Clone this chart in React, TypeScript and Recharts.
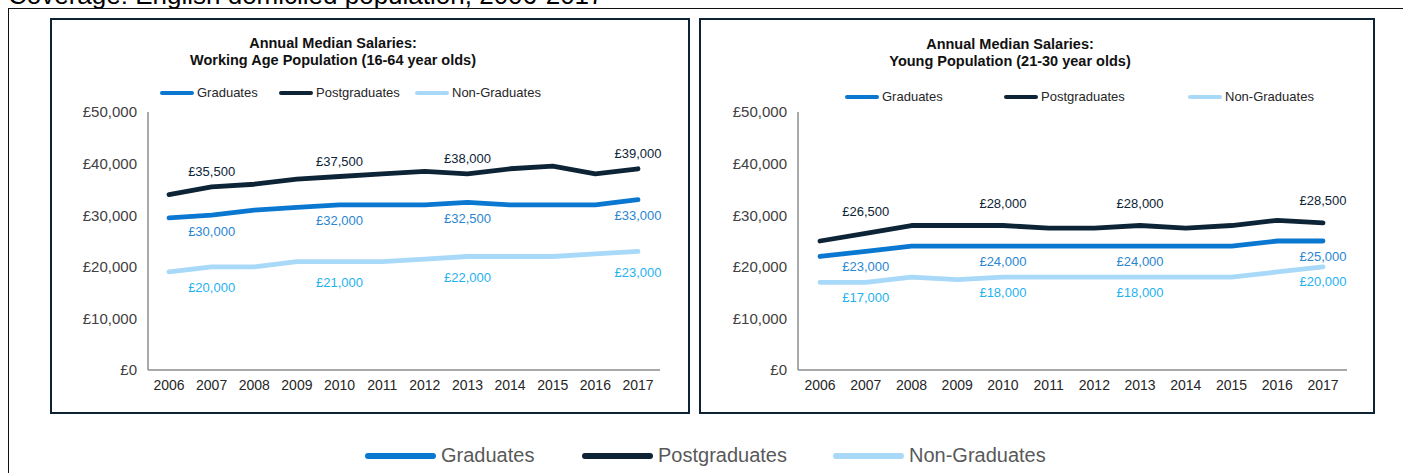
import React from 'react';
import { LineChart, Line, XAxis, YAxis, LabelList } from 'recharts';

const years = ['2006', '2007', '2008', '2009', '2010', '2011', '2012', '2013', '2014', '2015', '2016', '2017'];
const yTicks = [0, 10000, 20000, 30000, 40000, 50000];
const labelledYears = ['2007', '2010', '2013', '2017'];
const seriesNames = ['Graduates', 'Postgraduates', 'Non-Graduates'];

const workGrad = [29500, 30000, 31000, 31500, 32000, 32000, 32000, 32500, 32000, 32000, 32000, 33000];
const workPost = [34000, 35500, 36000, 37000, 37500, 38000, 38500, 38000, 39000, 39500, 38000, 39000];
const workNon = [19000, 20000, 20000, 21000, 21000, 21000, 21500, 22000, 22000, 22000, 22500, 23000];

const youngGrad = [22000, 23000, 24000, 24000, 24000, 24000, 24000, 24000, 24000, 24000, 25000, 25000];
const youngPost = [25000, 26500, 28000, 28000, 28000, 27500, 27500, 28000, 27500, 28000, 29000, 28500];
const youngNon = [17000, 17000, 18000, 17500, 18000, 18000, 18000, 18000, 18000, 18000, 19000, 20000];

const lineColors = ['#0a78d0', '#0d2436', '#a8d9f8'];
const labelColors = ['#2a86d1', '#0d2436', '#1fb2ef'];
const FONT = '"Liberation Sans", Arial, sans-serif';

const buildRows = (g: number[], p: number[], n: number[]) =>
  years.map((y, i) => ({ year: y, Graduates: g[i], Postgraduates: p[i], 'Non-Graduates': n[i] }));

const workRows = buildRows(workGrad, workPost, workNon);
const youngRows = buildRows(youngGrad, youngPost, youngNon);

const money = (v: number) => '£' + Number(v).toLocaleString('en-GB');

const makeLabel = (color: string, dy: number) => (props: any) => {
  const { x, y, value, index } = props;
  if (!labelledYears.includes(years[index])) return null;
  return (
    <text x={x} y={y + dy} textAnchor="middle" dominantBaseline="central" fill={color}
      fontSize={13} fontFamily={FONT}>
      {money(value)}
    </text>
  );
};

type PanelProps = {
  left: number; width: number; rows: any[];
  title2: string; titleTop: number; titleShift: number; legendTop: number; legendLefts: number[];
  padL: number; padR: number; marginR: number; yWidth: number;
  dys: number[];
};

function Panel(p: PanelProps) {
  return (
    <div style={{ position: 'absolute', left: p.left, top: 18, width: p.width, height: 396 }}>
      <div style={{ position: 'absolute', left: 0, top: 0, width: p.width - 4, height: 392, border: '2px solid #0d2436' }} />
      <div style={{ position: 'absolute', left: 0, width: p.width, top: p.titleTop, textAlign: 'center', fontFamily: FONT, fontWeight: 'bold', fontSize: 14.5, lineHeight: '17px', color: '#111' }}>
        <div style={{ transform: `translateX(${p.titleShift}px)` }}>Annual Median Salaries:</div>
        <div style={{ transform: `translateX(${p.titleShift}px)` }}>{p.title2}</div>
      </div>
      {seriesNames.map((name, i) => (
        <div key={name} style={{ position: 'absolute', left: p.legendLefts[i], top: p.legendTop, display: 'flex', alignItems: 'center', fontFamily: FONT, fontSize: 13, color: '#262626', whiteSpace: 'nowrap' }}>
          <div style={{ width: 34, height: 4, borderRadius: 2, background: lineColors[i], marginRight: 3 }} />
          <span>{name}</span>
        </div>
      ))}
      <div style={{ position: 'absolute', left: 0, top: 0 }}>
        <LineChart width={p.width} height={396} data={p.rows}
          margin={{ top: 94, right: p.marginR, bottom: 14, left: 0 }}>
          <XAxis dataKey="year" tickLine={false} tickMargin={4} height={30}
            padding={{ left: p.padL, right: p.padR }}
            axisLine={{ stroke: '#8c8c8c', strokeWidth: 1.5 }}
            tick={{ fontSize: 14, fill: '#262626', fontFamily: FONT }} interval={0} />
          <YAxis domain={[0, 50000]} ticks={yTicks} tickFormatter={money} width={p.yWidth}
            tickLine={false} tickMargin={5}
            axisLine={{ stroke: '#8c8c8c', strokeWidth: 1.5 }}
            tick={{ fontSize: 15, fill: '#404040', fontFamily: FONT }} />
          {seriesNames.map((name, i) => (
            <Line key={name} dataKey={name} type="linear" stroke={lineColors[i]} strokeWidth={4.8}
              dot={false} isAnimationActive={false} strokeLinejoin="round" strokeLinecap="round">
              <LabelList dataKey={name} content={makeLabel(labelColors[i], p.dys[i])} />
            </Line>
          ))}
        </LineChart>
      </div>
    </div>
  );
}

export default function App() {
  return (
    <div style={{ position: 'absolute', left: 0, top: 0, width: 1403, height: 473, background: '#fff', overflow: 'hidden' }}>
      <div style={{ position: 'absolute', left: 8, top: -20, fontFamily: FONT, fontSize: 26, lineHeight: '30px', color: '#000', whiteSpace: 'nowrap' }}>
        Coverage: English domiciled population, 2006-2017
      </div>
      <div style={{ position: 'absolute', left: 8, top: 8, width: 1403, height: 473, borderTop: '1.5px solid #111', borderLeft: '1.5px solid #111' }} />
      <Panel left={50} width={640} rows={workRows} title2="Working Age Population (16-64 year olds)"
        titleTop={17} titleShift={-37} legendTop={67} legendLefts={[110, 229, 365]}
        padL={21} padR={22} marginR={30} yWidth={98} dys={[16, -15, 21]} />
      <Panel left={699} width={676} rows={youngRows} title2="Young Population (21-30 year olds)"
        titleTop={18} titleShift={-27} legendTop={71} legendLefts={[146, 305, 489]}
        padL={22} padR={24} marginR={28} yWidth={99} dys={[15, -22, 15]} />
      {seriesNames.map((name, i) => (
        <div key={name} style={{ position: 'absolute', left: [365, 582, 833][i], top: 444, display: 'flex', alignItems: 'center', fontFamily: FONT, fontSize: 20, color: '#595959', whiteSpace: 'nowrap' }}>
          <div style={{ width: 71, height: 6, borderRadius: 3, background: lineColors[i], marginRight: 5 }} />
          <span>{name}</span>
        </div>
      ))}
    </div>
  );
}
